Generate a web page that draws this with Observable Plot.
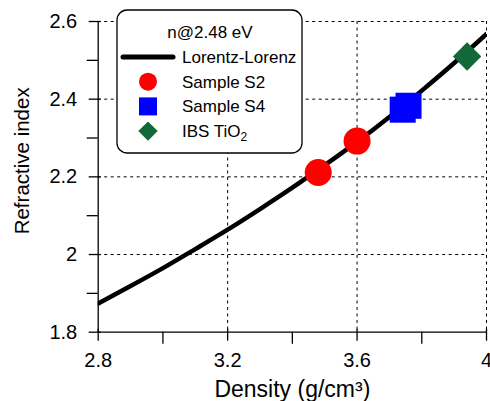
<!DOCTYPE html>
<html><head><meta charset="utf-8">
<script src="https://cdn.jsdelivr.net/npm/d3@7"></script>
<script src="https://cdn.jsdelivr.net/npm/@observablehq/plot@0.6"></script>
<style>
body{margin:0;background:#fff;}
svg{font-family:"Liberation Sans",Arial,sans-serif;}
</style>
</head><body><div id="chart"></div>
<script>
// Lorentz-Lorenz curve
const llDensity = [2.8, 2.9, 3.0, 3.1, 3.2, 3.3, 3.4, 3.5, 3.6, 3.7, 3.8, 3.9, 4.0];
const llIndex   = [1.874, 1.919, 1.965, 2.014, 2.064, 2.117, 2.172, 2.230, 2.290, 2.354, 2.422, 2.493, 2.568];
// Samples
const s2Density = [3.48, 3.60];
const s2Index   = [2.211, 2.292];
const s4Density = [3.741, 3.759];
const s4Index   = [2.373, 2.383];
const ibsDensity = [3.94];
const ibsIndex   = [2.51];
// Ticks
const xMajorTicks = [2.8, 3.2, 3.6, 4];
const xMinorTicks = [3.0, 3.4, 3.8];
const yMajorTicks = [1.8, 2, 2.2, 2.4, 2.6];
const yMinorTicks = [1.9, 2.1, 2.3, 2.5];
const xGrid = [3.2, 3.6, 4];
const yGrid = [2, 2.2, 2.4, 2.6];
// Text
const xTitle = "Density (g/cm³)";
const yTitle = "Refractive index";
const legendTitle = "n@2.48 eV";
const legendLabels = ["Lorentz-Lorenz", "Sample S2", "Sample S4", "IBS TiO"];
const legendSymbols = ["line", "circle", "square", "diamond2"];
const seriesColors = ["#000000", "#ff0000", "#0000ff", "#13683a"];

const zip = (xs, ys) => xs.map((x, i) => ({x, y: ys[i]}));
const fmt = d => String(+d.toFixed(1));

const plot = Plot.plot({
  width: 490, height: 401,
  marginLeft: 97.7, marginRight: 4, marginTop: 21, marginBottom: 69.3,
  x: {domain: [2.8, 4]},
  y: {domain: [1.8, 2.6]},
  style: {fontFamily: '"Liberation Sans", Arial, sans-serif', color: "black", background: "white", overflow: "visible"},
  marks: [
    Plot.ruleX(xGrid, {stroke: "black", strokeWidth: 1, strokeDasharray: "3,3.5"}),
    Plot.ruleY(yGrid, {stroke: "black", strokeWidth: 1, strokeDasharray: "3,3.5"}),
    Plot.ruleX([2.8], {stroke: "black", strokeWidth: 1.3}),
    Plot.ruleY([1.8], {stroke: "black", strokeWidth: 1.3}),
    Plot.axisX(xMajorTicks, {tickSize: 12, dy: -3, tickFormat: () => "", label: null, strokeWidth: 1.3}),
    Plot.axisX(xMinorTicks, {tickSize: 12, tickFormat: () => "", label: null, strokeWidth: 1.3}),
    Plot.axisX(xMajorTicks, {tickSize: 0, tickPadding: 20.5, tickFormat: fmt, label: null, fontSize: 20}),
    Plot.axisY(yMajorTicks, {tickSize: 12, dx: 3, tickFormat: () => "", label: null, strokeWidth: 1.3}),
    Plot.axisY(yMinorTicks, {tickSize: 11, tickFormat: () => "", label: null, strokeWidth: 1.3}),
    Plot.axisY(yMajorTicks, {tickSize: 0, tickPadding: 21, tickFormat: fmt, label: null, fontSize: 20}),
    Plot.text([xTitle], {frameAnchor: "bottom", dy: 64.5, lineAnchor: "bottom", textAnchor: "middle", fontSize: 23, fill: "black"}),
    Plot.text([yTitle], {frameAnchor: "left", rotate: -90, dx: -75.7, dy: -16, lineAnchor: "middle", textAnchor: "middle", fontSize: 20.5, fill: "black"}),
    Plot.line(zip(llDensity, llIndex), {x: "x", y: "y", stroke: seriesColors[0], strokeWidth: 4.5, curve: "natural", clip: true}),
    Plot.dot(zip(s2Density, s2Index), {x: "x", y: "y", r: 13.5, symbol: "circle", fill: seriesColors[1]}),
    Plot.dot(zip(s4Density, s4Index), {x: "x", y: "y", r: 14.7, symbol: "square", fill: seriesColors[2]}),
    Plot.dot(zip(ibsDensity, ibsIndex), {x: "x", y: "y", r: 12.8, symbol: "diamond2", fill: seriesColors[3]})
  ]
});
document.getElementById("chart").appendChild(plot);

// Legend box
const svg = d3.select(plot);
const lg = svg.append("g")
  .attr("font-family", '"Liberation Sans", Arial, sans-serif')
  .attr("font-size", 17).attr("fill", "black").attr("text-anchor", "start");
lg.append("rect").attr("x", 117).attr("y", 10).attr("width", 185).attr("height", 143)
  .attr("rx", 10).attr("fill", "white").attr("stroke", "black").attr("stroke-width", 1.3);
lg.append("text").attr("x", 210).attr("y", 38).attr("text-anchor", "middle").text(legendTitle);
const symMap = {circle: d3.symbolCircle, square: d3.symbolSquare, diamond2: d3.symbolDiamond2};
const symArea = {circle: Math.PI * 9 * 9, square: 18 * 18, diamond2: 15.5 * 15.5};
legendLabels.forEach((lab, i) => {
  const cy = 57 + i * 24.7;
  const s = legendSymbols[i];
  if (s === "line") {
    lg.append("line").attr("x1", 123).attr("x2", 173).attr("y1", cy).attr("y2", cy)
      .attr("stroke", seriesColors[i]).attr("stroke-width", 5).attr("stroke-linecap", "round");
  } else {
    lg.append("path").attr("transform", `translate(148,${cy})`)
      .attr("d", d3.symbol(symMap[s], symArea[s])()).attr("fill", seriesColors[i]);
  }
  const t = lg.append("text").attr("x", 182).attr("y", cy + 6).attr("text-anchor", "start").text(lab);
  if (i === 3) t.append("tspan").attr("font-size", 12).attr("dy", 4).text("2");
});
</script>
</body></html>
